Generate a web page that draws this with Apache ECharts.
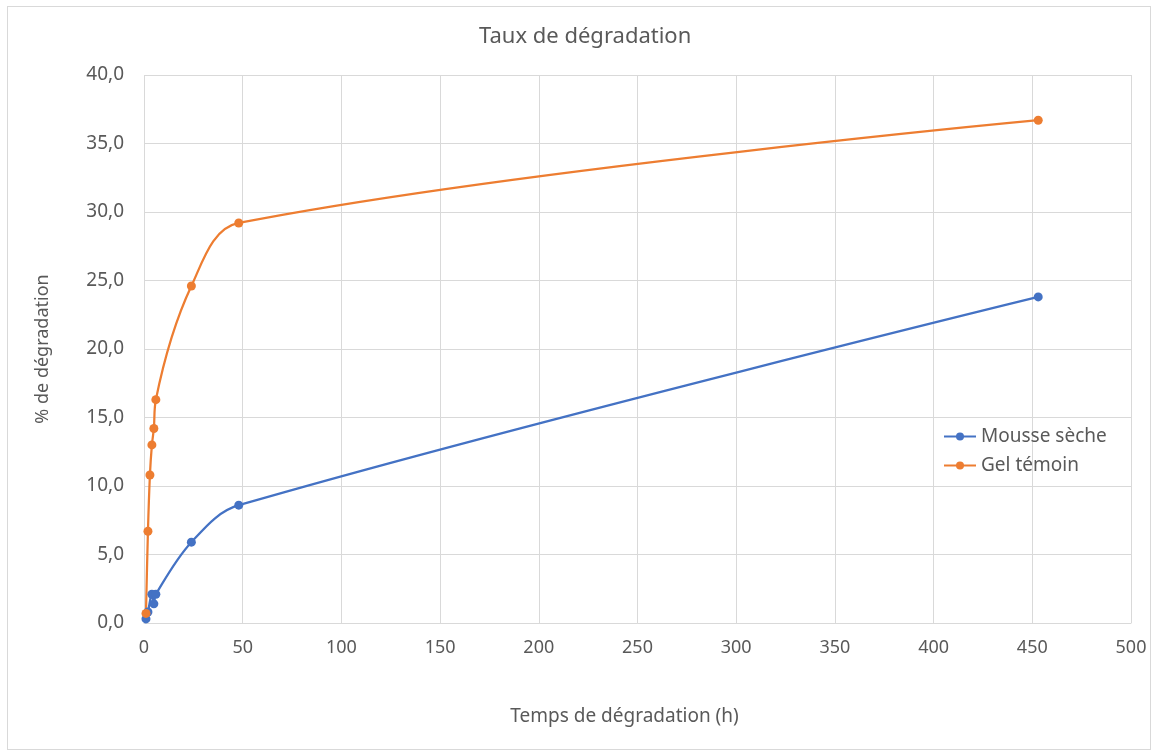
<!DOCTYPE html>
<html>
<head>
<meta charset="utf-8">
<script src="https://cdn.jsdelivr.net/npm/echarts@6/dist/echarts.min.js"></script>
<style>
  html, body { margin: 0; padding: 0; background: #fff; }
  #frame { position: absolute; left: 7px; top: 6px; width: 1144px; height: 744px; border: 1px solid #d9d9d9; box-sizing: border-box; }
  #chart { width: 1158px; height: 756px; }
</style>
</head>
<body>
<div id="frame"></div>
<div id="chart" style="position:absolute;left:0;top:0;"></div>
<script>
// Sampling times (h) and degradation (%) for each formulation
const timesMousse = [1, 2, 4, 5, 6, 24, 48, 453];
const valuesMousse = [0.3, 0.8, 2.1, 1.4, 2.1, 5.9, 8.6, 23.8];
const timesGel = [1, 2, 3, 4, 5, 6, 24, 48, 453];
const valuesGel = [0.7, 6.7, 10.8, 13.0, 14.2, 16.3, 24.6, 29.2, 36.7];

const seriesNames = ['Mousse sèche', 'Gel témoin'];
const chartTitle = 'Taux de dégradation';
const xAxisName = 'Temps de dégradation (h)';
const yAxisName = '% de dégradation';

const pairs = (xs, ys) => xs.map((x, i) => [x, ys[i]]);
const textColor = '#595959';
const gridColor = '#d9d9d9';
const font = 'Noto Sans';

const chart = echarts.init(document.getElementById('chart'), null, { renderer: 'canvas' });
chart.setOption({
  animation: false,
  backgroundColor: 'transparent',
  title: {
    text: chartTitle,
    left: 479,
    top: 26,
    padding: 0,
    textStyle: { color: textColor, fontFamily: font, fontSize: 22, fontWeight: 'normal' }
  },
  legend: {
    orient: 'vertical',
    left: 938,
    top: 422,
    itemWidth: 32,
    itemHeight: 10,
    itemGap: 10,
    textStyle: { color: textColor, fontFamily: font, fontSize: 19 },
    data: seriesNames
  },
  grid: { left: 144, right: 27, top: 75, bottom: 133, containLabel: false },
  xAxis: {
    type: 'value',
    min: 0, max: 500, interval: 50,
    name: xAxisName,
    nameLocation: 'middle',
    nameGap: 84,
    nameTextStyle: { color: textColor, fontFamily: font, fontSize: 19, padding: [0, 26, 0, 0] },
    axisLine: { show: true, lineStyle: { color: gridColor, width: 1 } },
    axisTick: { show: false },
    axisLabel: { color: textColor, fontFamily: font, fontSize: 18, margin: 16 },
    splitLine: { show: true, lineStyle: { color: gridColor, width: 1 } }
  },
  yAxis: {
    type: 'value',
    min: 0, max: 40, interval: 5,
    name: yAxisName,
    nameLocation: 'middle',
    nameGap: 92,
    nameTextStyle: { color: textColor, fontFamily: font, fontSize: 18 },
    axisLine: { show: false },
    axisTick: { show: false },
    axisLabel: {
      color: textColor, fontFamily: font, fontSize: 19, margin: 20,
      formatter: v => v.toFixed(1).replace('.', ',')
    },
    splitLine: { show: true, lineStyle: { color: gridColor, width: 1 } }
  },
  series: [
    {
      name: seriesNames[0],
      type: 'line',
      data: pairs(timesMousse, valuesMousse),
      smooth: 0.35,
      symbol: 'circle',
      symbolSize: 9,
      itemStyle: { color: '#4472C4' },
      lineStyle: { color: '#4472C4', width: 2.25 }
    },
    {
      name: seriesNames[1],
      type: 'line',
      data: pairs(timesGel, valuesGel),
      smooth: 0.35,
      symbol: 'circle',
      symbolSize: 9,
      itemStyle: { color: '#ED7D31' },
      lineStyle: { color: '#ED7D31', width: 2.25 }
    }
  ]
});
</script>
</body>
</html>
